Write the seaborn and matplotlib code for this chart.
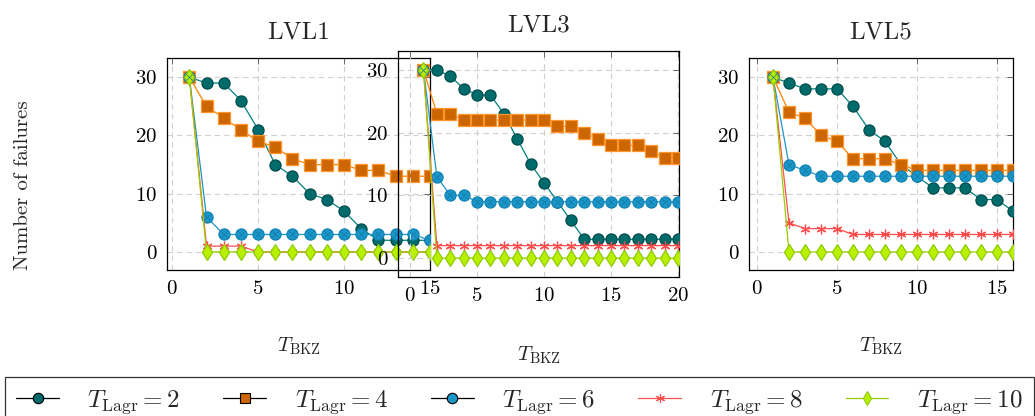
import matplotlib

matplotlib.use("Agg")
import matplotlib.pyplot as plt
import seaborn as sns
from matplotlib.lines import Line2D

# values
lvl1_x = list(range(1, 16))
lvl1_t2 = [30, 29, 29, 26, 21, 15, 13, 10, 9, 7, 4, 2, 2, 2, 2]
lvl1_t4 = [30, 25, 23, 21, 19, 18, 16, 15, 15, 15, 14, 14, 13, 13, 13]
lvl1_t6 = [30, 6, 3, 3, 3, 3, 3, 3, 3, 3, 3, 3, 3, 3, 2]
lvl1_t8 = [30, 1, 1, 1, 0, 0, 0, 0, 0, 0, 0, 0, 0, 0, 0]
lvl1_t10 = [30, 0, 0, 0, 0, 0, 0, 0, 0, 0, 0, 0, 0, 0, 0]

lvl3_x = list(range(1, 21))
lvl3_t2 = [30, 30, 29, 27, 26, 26, 23, 19, 15, 12, 9, 6, 3, 3, 3, 3, 3, 3, 3, 3]
lvl3_t4 = [30, 23, 23, 22, 22, 22, 22, 22, 22, 22, 21, 21, 20, 19, 18, 18, 18, 17, 16, 16]
lvl3_t6 = [30, 13, 10, 10, 9, 9, 9, 9, 9, 9, 9, 9, 9, 9, 9, 9, 9, 9, 9, 9]
lvl3_t8 = [30, 2, 2, 2, 2, 2, 2, 2, 2, 2, 2, 2, 2, 2, 2, 2, 2, 2, 2, 2]
lvl3_t10 = [30, 0, 0, 0, 0, 0, 0, 0, 0, 0, 0, 0, 0, 0, 0, 0, 0, 0, 0, 0]

lvl5_x = list(range(1, 17))
lvl5_t2 = [30, 29, 28, 28, 28, 25, 21, 19, 15, 13, 11, 11, 11, 9, 9, 7]
lvl5_t4 = [30, 24, 23, 20, 19, 16, 16, 16, 15, 14, 14, 14, 14, 14, 14, 14]
lvl5_t6 = [30, 15, 14, 13, 13, 13, 13, 13, 13, 13, 13, 13, 13, 13, 13, 13]
lvl5_t8 = [30, 5, 4, 4, 4, 3, 3, 3, 3, 3, 3, 3, 3, 3, 3, 3]
lvl5_t10 = [30, 0, 0, 0, 0, 0, 0, 0, 0, 0, 0, 0, 0, 0, 0, 0]

lagr_values = [2, 4, 6, 8, 10]
titles = ["LVL1", "LVL3", "LVL5"]

# style per series: line colour, marker, face, edge, size
styles = [
    dict(color="#008080", marker="o", mfc="#006B6B", mec="#004C4C", ms=8),
    dict(color="#FF8000", marker="s", mfc="#CC6600", mec="#FF9428", ms=8),
    dict(color="#1A96C8", marker="o", mfc="#1A96C8", mec="#1283B4", ms=8),
    dict(color="#FF4D4D", marker=(6, 2, 0), mfc="#FF4D4D", mec="#FF4D4D", ms=7),
    dict(color="#99CC00", marker="d", mfc="#B8F000", mec="#8FCC00", ms=8),
]

sns.set_theme(style="white")
plt.rcParams["font.family"] = ["cmr10", "DejaVu Serif"]
plt.rcParams["mathtext.fontset"] = "cm"
plt.rcParams["axes.formatter.use_mathtext"] = True
plt.rcParams["axes.unicode_minus"] = False

W, H = 1035, 416
fig = plt.figure(figsize=(W / 100, H / 100), dpi=100)


def px_axes(left, top, right, bottom):
    return fig.add_axes([left / W, 1 - bottom / H, (right - left) / W, (bottom - top) / H])


panels = [
    dict(box=(167, 58, 430, 270), x=lvl1_x,
         ys=[lvl1_t2, lvl1_t4, lvl1_t6, lvl1_t8, lvl1_t10],
         xlim=(-0.3, 15.0), ylim=(-3.1, 33.3), xticks=[0, 5, 10, 15], lab=-0.31),
    dict(box=(398, 51, 679, 277), x=lvl3_x,
         ys=[lvl3_t2, lvl3_t4, lvl3_t6, lvl3_t8, lvl3_t10],
         xlim=(-0.9, 20.07), ylim=(-3.0, 33.0), xticks=[0, 5, 10, 15, 20], lab=-0.30),
    dict(box=(749, 58, 1013, 270), x=lvl5_x,
         ys=[lvl5_t2, lvl5_t4, lvl5_t6, lvl5_t8, lvl5_t10],
         xlim=(-0.5, 16.0), ylim=(-3.1, 33.3), xticks=[0, 5, 10, 15], lab=-0.31),
]

for title, panel in zip(titles, panels):
    ax = px_axes(*panel["box"])
    ax.set_facecolor("none")
    for values, st in zip(panel["ys"], styles):
        sns.lineplot(
            x=panel["x"], y=values, ax=ax, color=st["color"], linewidth=0.9,
            marker=st["marker"], markersize=st["ms"], markerfacecolor=st["mfc"],
            markeredgecolor=st["mec"], markeredgewidth=0.9, zorder=3,
        )
        if st is styles[2]:
            # otimes-style cross inside the blue circles
            ax.plot(panel["x"], values, linestyle="none", marker="x", markersize=4.5,
                    color="#1078A6", markeredgewidth=0.5, zorder=3.1)
    ax.set_xlim(*panel["xlim"])
    ax.set_ylim(*panel["ylim"])
    ax.set_xticks(panel["xticks"])
    ax.set_yticks([0, 10, 20, 30])
    ax.grid(True, linestyle=(0, (5, 3.5)), color="#d0d0d0", linewidth=0.8)
    ax.set_axisbelow(True)
    ax.tick_params(direction="in", length=4.25, width=0.6, color="#555555",
                   top=True, right=True, labelsize=15, pad=7, labelcolor="black")
    for sp in ax.spines.values():
        sp.set_color("black")
        sp.set_linewidth(0.9)
    ax.set_title(title, fontsize=18, pad=14)
    ax.set_xlabel(r"$T_{\mathrm{BKZ}}$", fontsize=15)
    ax.xaxis.set_label_coords(0.5, panel["lab"])
    ax.xaxis.label.set_va("top")
    ax.set_ylabel("")

fig.text(23 / W, 1 - 185 / H, "Number of failures", rotation=90,
         ha="center", va="center", fontsize=15)

handles = []
for i, st in enumerate(styles):
    line_col = "black" if i < 3 else st["color"]
    edge_col = "black" if i < 3 else st["mec"]
    handles.append(Line2D([], [], color=line_col, linewidth=0.9, marker=st["marker"],
                          markersize=st["ms"] - 0.5, markerfacecolor=st["mfc"],
                          markeredgecolor=edge_col, markeredgewidth=0.8))
labels = [rf"$T_{{\mathrm{{Lagr}}}} = {v}$" for v in lagr_values]

leg = fig.legend(
    handles, labels, loc="upper left", bbox_to_anchor=(5 / W, 1 - 377 / H),
    ncol=5, frameon=True, fancybox=False, fontsize=18, borderaxespad=0,
    borderpad=0.45, handlelength=1.7, handletextpad=1.15, columnspacing=1.72,
)
leg.get_frame().set_edgecolor("black")
leg.get_frame().set_linewidth(0.9)
leg.get_frame().set_facecolor("white")

fig.savefig("out.png", dpi=100)
plt.close(fig)
